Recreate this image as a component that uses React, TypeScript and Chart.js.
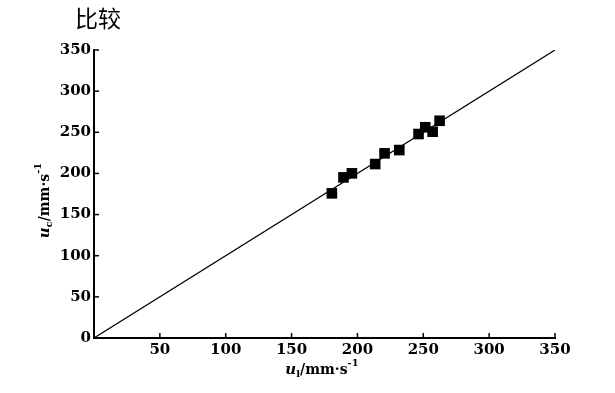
import React, { useEffect, useRef } from "react";
import { Chart, registerables } from "chart.js";

Chart.register(...registerables);

const chartTitle = "比较";
const measuredX = [180.6, 189.4, 195.8, 213.5, 220.6, 231.8, 246.4, 251.5, 257.1, 262.4];
const measuredY = [175.8, 195.2, 200.1, 211.4, 224.4, 228.4, 247.9, 256.1, 250.7, 264.0];
const fitX = [0, 350];
const fitY = [0, 350];
const axisMin = 0;
const axisMax = 350;
const axisStep = 50;

const TICK_FONT = "DejaVu Serif";

function drawRichTitle(
  ctx: CanvasRenderingContext2D,
  sub: string,
  cx: number,
  cy: number,
  rotate: boolean
) {
  const parts: { t: string; font: string; dy: number }[] = [
    { t: "u", font: `italic bold 15px ${TICK_FONT}`, dy: 0 },
    { t: sub, font: `bold 10px ${TICK_FONT}`, dy: 4 },
    { t: "/mm·s", font: `bold 14px ${TICK_FONT}`, dy: 0 },
    { t: "-1", font: `bold 10px ${TICK_FONT}`, dy: -7 },
  ];
  ctx.save();
  ctx.translate(cx, cy);
  if (rotate) ctx.rotate(-Math.PI / 2);
  let total = 0;
  const widths = parts.map((p) => {
    ctx.font = p.font;
    const w = ctx.measureText(p.t).width + (p.t === "-1" ? 1 : 0);
    total += w;
    return w;
  });
  let x = -total / 2;
  ctx.fillStyle = "#000";
  ctx.textBaseline = "middle";
  ctx.textAlign = "left";
  parts.forEach((p, i) => {
    ctx.font = p.font;
    ctx.fillText(p.t, x, p.dy);
    x += widths[i];
  });
  ctx.restore();
}

const decorPlugin = {
  id: "decor",
  afterDraw(chart: any) {
    const ctx = chart.ctx as CanvasRenderingContext2D;
    const xs = chart.scales.x;
    const ys = chart.scales.y;
    const area = chart.chartArea;
    ctx.save();
    ctx.strokeStyle = "#000";
    ctx.lineWidth = 1.5;
    xs.ticks.forEach((t: any) => {
      const px = xs.getPixelForValue(t.value);
      ctx.beginPath();
      ctx.moveTo(px, area.bottom);
      ctx.lineTo(px, area.bottom - 5);
      ctx.stroke();
    });
    ys.ticks.forEach((t: any) => {
      const py = ys.getPixelForValue(t.value);
      ctx.beginPath();
      ctx.moveTo(area.left, py);
      ctx.lineTo(area.left + 5, py);
      ctx.stroke();
    });
    // chart title
    ctx.fillStyle = "#000";
    ctx.font = `23px "Noto Sans CJK SC"`;
    ctx.textAlign = "left";
    ctx.textBaseline = "middle";
    ctx.fillText(chartTitle, 75, 18);
    // axis titles
    drawRichTitle(ctx, "l", (area.left + area.right) / 2 - 2, 370, false);
    drawRichTitle(ctx, "c", 45, (area.top + area.bottom) / 2 + 6, true);
    ctx.restore();
  },
};

export default function App() {
  const ref = useRef<HTMLCanvasElement | null>(null);
  useEffect(() => {
    if (!ref.current) return;
    const chart = new Chart(ref.current, {
      type: "scatter",
      data: {
        datasets: [
          {
            label: "fit",
            data: fitX.map((x, i) => ({ x, y: fitY[i] })),
            showLine: true,
            borderColor: "#000",
            borderWidth: 1.2,
            pointRadius: 0,
          },
          {
            label: "measured",
            data: measuredX.map((x, i) => ({ x, y: measuredY[i] })),
            pointStyle: "rect",
            pointRadius: 7.5,
            backgroundColor: "#000",
            borderColor: "#000",
            borderWidth: 0,
          },
        ],
      },
      options: {
        responsive: false,
        animation: false,
        layout: { padding: { top: 50, right: 60, left: 0, bottom: 0 } },
        plugins: {
          legend: { display: false },
          tooltip: { enabled: false },
          title: { display: false },
        },
        scales: {
          x: {
            type: "linear",
            min: axisMin,
            max: axisMax,
            grid: { display: false, drawTicks: false },
            border: { display: true, color: "#000", width: 2 },
            ticks: {
              stepSize: axisStep,
              color: "#000",
              padding: 3,
              maxRotation: 0,
              font: { family: TICK_FONT, size: 15, weight: "bold" },
              callback: (v: any) => (v === 0 ? "" : String(v)),
            },
            afterFit: (s: any) => {
              s.height = 55;
            },
          },
          y: {
            type: "linear",
            min: axisMin,
            max: axisMax,
            grid: { display: false, drawTicks: false },
            border: { display: true, color: "#000", width: 2 },
            ticks: {
              stepSize: axisStep,
              color: "#000",
              padding: 3,
              font: { family: TICK_FONT, size: 15, weight: "bold" },
            },
            afterFit: (s: any) => {
              s.width = 94;
            },
          },
        },
      },
      plugins: [decorPlugin],
    });
    return () => chart.destroy();
  }, []);
  return (
    <div style={{ position: "fixed", left: 0, top: 0, width: 615, height: 393, background: "#fff" }}>
      <canvas ref={ref} width={615} height={393} style={{ width: 615, height: 393 }} />
    </div>
  );
}
